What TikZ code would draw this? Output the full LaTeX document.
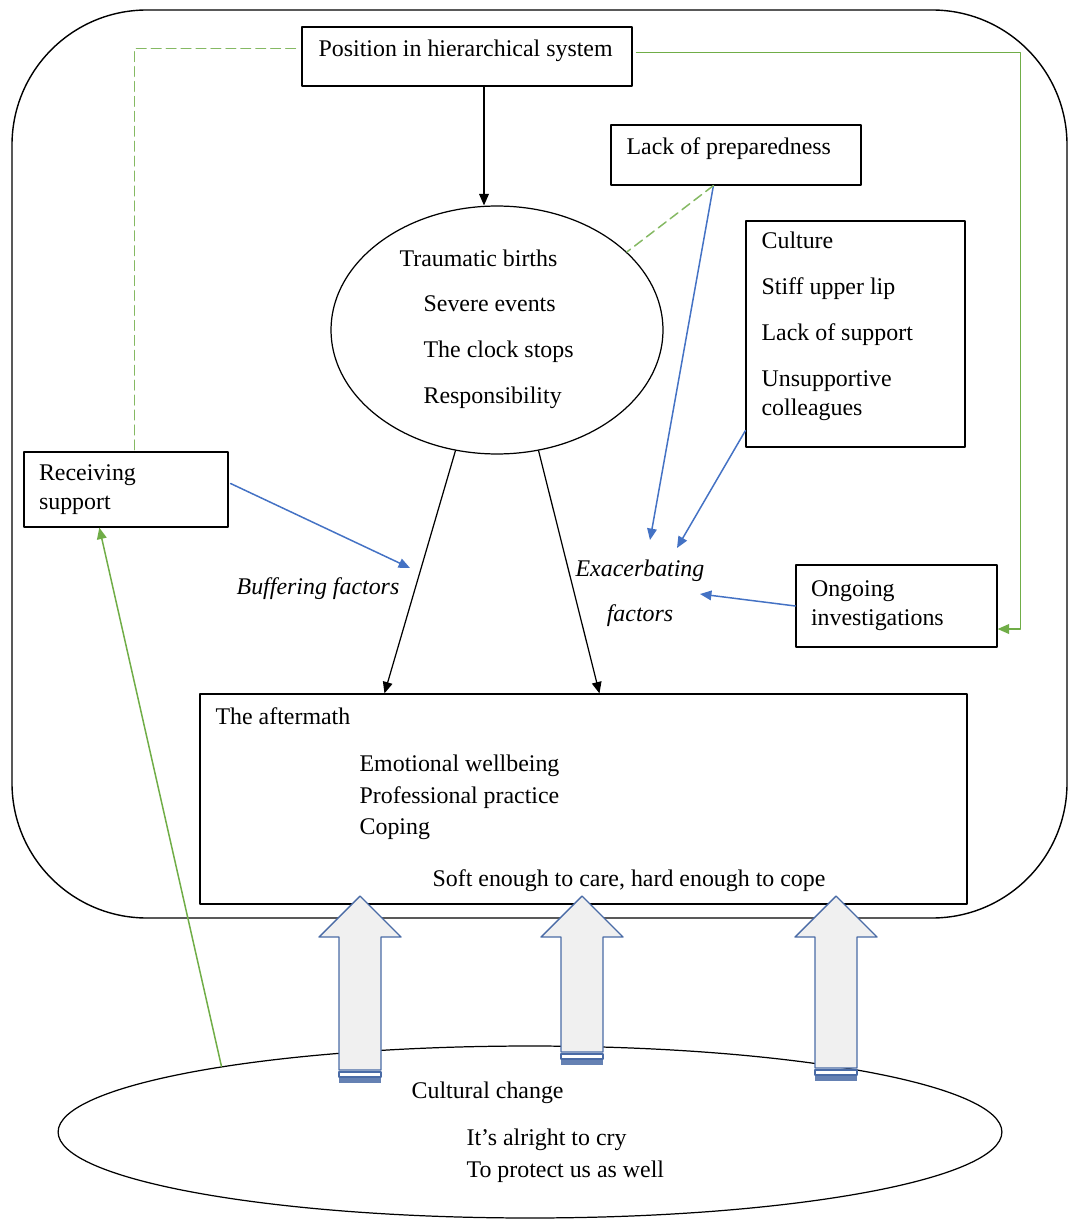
\documentclass[tikz,border=0pt]{standalone}
\usepackage{fontspec}
\setmainfont{Liberation Serif}
\usetikzlibrary{
  arrows.meta,
  calc,
  positioning,
  shapes.geometric
}
\definecolor{linkblue}{HTML}{4472C4}
\definecolor{linkgreen}{HTML}{70AD47}
\definecolor{arrowblue}{HTML}{4A6BA6}
\definecolor{arrowfill}{HTML}{F0F0F0}
\newcommand{\diagfont}{\fontsize{13.6}{16.4}\selectfont}
\newcommand{\liftarrow}[2]{%
  \filldraw[blockarrow] (#1,896) -- (#1+41,937) -- (#1+21,937) -- (#1+21,#2)
    -- (#1-21,#2) -- (#1-21,937) -- (#1-41,937) -- cycle;
  \draw[draw=arrowblue, fill=white, line width=0.7pt] (#1-21,#2+2) rectangle (#1+21,#2+7);
  \fill[arrowblue!85] (#1-21,#2+8) rectangle (#1+21,#2+13);
}
\tikzset{
  >={Triangle[length=6.5pt,width=5.5pt]},
  every picture/.style={line width=0.7pt, line cap=round, line join=round},
  box/.style={draw, inner sep=0pt},
  txt/.style={inner sep=0pt, align=left, font=\diagfont},
  factor/.style={inner sep=0pt, align=center, font=\diagfont\itshape},
  arrow/.style={->},
  bluearrow/.style={->, draw=linkblue, line width=0.85pt},
  greenarrow/.style={->, draw=linkgreen, line width=0.85pt},
  greendash/.style={draw=linkgreen!85, line width=0.85pt, dash pattern=on 5.5pt off 3pt},
  blockarrow/.style={draw=arrowblue, fill=arrowfill, line width=0.8pt}
}

\begin{document}
\begin{tikzpicture}[x=0.02cm, y=-0.02cm]
  \useasboundingbox (0,0) rectangle (1070,1219);

  \draw[rounded corners=2.7cm, line width=0.8pt] (12,10) rectangle (1067,918);

  \node[box, minimum width=6.6cm, minimum height=1.18cm] (pos) at (467,56.5) {};
  \node[box, minimum width=5cm, minimum height=1.2cm] (lack) at (736,155) {};
  \node[box, minimum width=4.38cm, minimum height=4.52cm] (cult) at (855.5,334) {};
  \node[draw, ellipse, inner sep=0pt, minimum width=6.64cm, minimum height=4.96cm] (trauma) at (497,330) {};
  \node[box, minimum width=4.08cm, minimum height=1.5cm, text width=3.48cm,
        inner xsep=0.3cm, align=left, font=\diagfont] (recv) at (126,489.5) {Receiving\\support};
  \node[box, minimum width=4.02cm, minimum height=1.64cm, text width=3.42cm,
        inner xsep=0.3cm, align=left, font=\diagfont] (ongo) at (896.5,606) {Ongoing\\investigations};
  \node[box, minimum width=15.34cm, minimum height=4.2cm] (aft) at (583.5,799) {};
  \node[draw, ellipse, inner sep=0pt, minimum width=18.88cm, minimum height=3.44cm] (change) at (530,1132) {};

  \node[txt, anchor=north west] (pos-t) at (318,39) {Position in hierarchical system};
  \node[txt, anchor=north west] (lack-t) at (626,137) {Lack of preparedness};
  \node[txt, anchor=north west] (cult-t) at (761,231)
    {Culture\\[10pt]Stiff upper lip\\[9.7pt]Lack of support\\[9.7pt]Unsupportive\\colleagues};
  \node[txt, anchor=north west] (trauma-t1) at (399,249) {Traumatic births};
  \node[txt, anchor=north west] (trauma-t2) at (423,295)
    {Severe events\\[9.7pt]The clock stops\\[9.7pt]Responsibility};
  \node[txt, anchor=north west] (aft-t) at (215,707) {The aftermath};
  \node[txt, anchor=north west] (aft-l) at (359,754)
    {Emotional wellbeing\\[1.7pt]Professional practice\\[1.7pt]Coping};
  \node[txt, anchor=north west] (aft-s) at (432,869) {Soft enough to care, hard enough to cope};
  \node[factor] (buff) at (318,589) {Buffering factors};
  \node[factor, anchor=north] (exac) at (640,559) {Exacerbating\\[9.3pt]factors};
  \node[txt, anchor=north west] (change-t) at (411,1081) {Cultural change};
  \node[txt, anchor=north west] (change-l) at (466,1128) {It’s alright to cry\\[1.7pt]To protect us as well};

  \coordinate (buffin) at (410,568);
  \coordinate (exacin1) at (650,540);
  \coordinate (exacin2) at (677,548);
  \coordinate (exacin3) at (700,594);

  \draw[arrow] ([xshift=0.34cm]pos.south) -- ([xshift=0.34cm]pos.south |- trauma.north);
  \draw[arrow] (trauma.251) -- ($(aft.north west)+(185,0)$);
  \draw[arrow] (trauma.289) -- ($(aft.north west)+(400,0)$);

  \draw[bluearrow] ($(recv.east)+(2,-6)$) -- (buffin);
  \draw[bluearrow] ($(lack.south west)+(103,0)$) -- (exacin1);
  \draw[bluearrow] ($(cult.south west)+(0,-17)$) -- (exacin2);
  \draw[bluearrow] (ongo.west) -- (exacin3);

  \draw[greendash] ($(pos.west)+(-6,-8)$) -| ($(recv.north west)+(111,0)$);
  \draw[greendash] ($(lack.south west)+(103,0)$) -- (trauma.31);
  \draw[greenarrow] ($(pos.east)+(4,-4)$) -- ++(384,0) |- ($(ongo.east)+(0,23)$);
  \draw[greenarrow] (change.168) -- (recv.235);

  \liftarrow{360}{1070}
  \liftarrow{582}{1052}
  \liftarrow{836}{1068}
\end{tikzpicture}
\end{document}
